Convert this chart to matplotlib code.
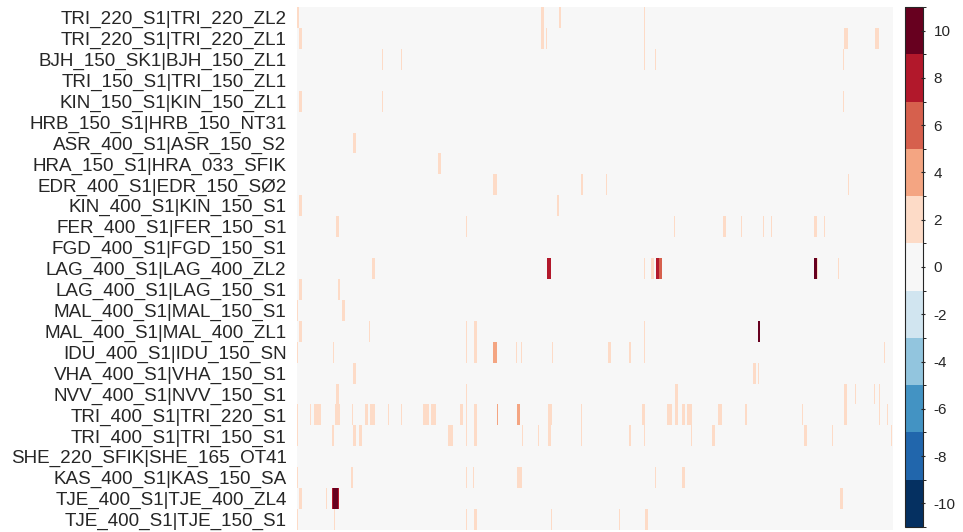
import numpy as np
import matplotlib
matplotlib.use("Agg")
import matplotlib.pyplot as plt
from matplotlib.colors import ListedColormap, BoundaryNorm

plt.rcParams['font.family'] = ['Liberation Sans', 'DejaVu Sans']
plt.rcParams['axes.unicode_minus'] = False

row_labels = [
    "TRI_220_S1|TRI_220_ZL2", "TRI_220_S1|TRI_220_ZL1", "BJH_150_SK1|BJH_150_ZL1",
    "TRI_150_S1|TRI_150_ZL1", "KIN_150_S1|KIN_150_ZL1", "HRB_150_S1|HRB_150_NT31",
    "ASR_400_S1|ASR_150_S2", "HRA_150_S1|HRA_033_SFIK", "EDR_400_S1|EDR_150_SØ2",
    "KIN_400_S1|KIN_150_S1", "FER_400_S1|FER_150_S1", "FGD_400_S1|FGD_150_S1",
    "LAG_400_S1|LAG_400_ZL2", "LAG_400_S1|LAG_150_S1", "MAL_400_S1|MAL_150_S1",
    "MAL_400_S1|MAL_400_ZL1", "IDU_400_S1|IDU_150_SN", "VHA_400_S1|VHA_150_S1",
    "NVV_400_S1|NVV_150_S1", "TRI_400_S1|TRI_220_S1", "TRI_400_S1|TRI_150_S1",
    "SHE_220_SFIK|SHE_165_OT41", "KAS_400_S1|KAS_150_SA", "TJE_400_S1|TJE_400_ZL4",
    "TJE_400_S1|TJE_150_S1",
]
n_cols = 596

# non-zero runs: row index, first column, last column, value
ev_row = (
    [0] * 4 + [1] * 6 + [2] * 5 + [4] * 3 + [6] + [7] + [8] * 4 + [9] * 2
    + [10] * 9 + [12] * 9 + [13] * 2 + [14] * 2 + [15] * 6 + [16] * 12
    + [17] * 3 + [18] * 7 + [19] * 29 + [20] * 18 + [22] * 7 + [23] * 6 + [24] * 7
)
ev_first = [
    0, 244, 262, 347,
    2, 244, 249, 347, 547, 578,
    85, 104, 347, 358, 546,
    2, 85, 546,
    56,
    141,
    196, 284, 309, 551,
    2, 260,
    39, 169, 377, 426, 444, 466, 474, 517, 527,
    75, 250, 347, 354, 359, 362, 517, 520, 541,
    2, 41,
    0, 45,
    2, 72, 169, 177, 347, 461,
    0, 36, 169, 177, 196, 219, 224, 255, 311, 332, 347, 587,
    56, 456, 461,
    39, 169, 378, 547, 558, 577, 582,
    0, 13, 17, 38, 55, 68, 73, 91, 104, 126, 134, 163, 169, 177, 200, 220,
    251, 284, 345, 370, 378, 385, 390, 421, 448, 505, 547, 582, 590,
    0, 35, 56, 62, 151, 169, 177, 225, 241, 251, 284, 332, 347, 394, 415, 507, 535, 594,
    0, 54, 169, 176, 220, 358, 385,
    2, 29, 35, 36, 41, 543,
    0, 37, 169, 177, 254, 322, 348,
]
ev_last = [
    1, 246, 263, 347,
    4, 246, 249, 347, 550, 581,
    85, 104, 347, 358, 546,
    4, 85, 546,
    58,
    143,
    199, 285, 309, 551,
    4, 261,
    41, 169, 377, 428, 444, 466, 474, 519, 527,
    77, 253, 347, 356, 361, 364, 519, 520, 541,
    4, 42,
    0, 47,
    4, 72, 169, 179, 347, 462,
    0, 36, 169, 179, 199, 219, 224, 255, 313, 333, 347, 587,
    58, 458, 461,
    41, 169, 380, 549, 558, 577, 582,
    0, 13, 23, 42, 55, 70, 77, 91, 104, 131, 138, 165, 169, 179, 200, 222,
    254, 284, 347, 374, 380, 387, 394, 424, 449, 505, 549, 582, 590,
    0, 36, 58, 64, 155, 169, 179, 225, 241, 253, 284, 333, 347, 394, 417, 509, 535, 594,
    0, 55, 169, 176, 224, 358, 387,
    4, 29, 35, 40, 41, 545,
    0, 37, 169, 179, 254, 322, 350,
]
ev_value = [
    2, 2, 2, 2,
    2, 2, 2, 2, 2, 2,
    2, 2, 2, 2, 2,
    2, 2, 2,
    2,
    2,
    2, 2, 2, 2,
    2, 2,
    2, 2, 2, 2, 2, 2, 2, 2, 2,
    2, 8, 2, 2, 8, 6, 10, 2, 2,
    2, 2,
    2, 2,
    2, 2, 2, 2, 2, 10,
    2, 2, 2, 2, 4, 2, 2, 2, 2, 2, 2, 2,
    2, 2, 2,
    2, 2, 2, 2, 2, 2, 2,
    2, 2, 2, 2, 2, 2, 2, 2, 2, 2, 2, 2, 2, 2, 4, 4,
    2, 2, 2, 2, 2, 2, 2, 2, 2, 2, 2, 2, 2,
    2, 2, 2, 2, 2, 2, 2, 2, 2, 2, 2, 2, 2, 2, 2, 2, 2, 2,
    2, 2, 2, 2, 2, 2, 2,
    2, 2, 8, 10, 8, 2,
    2, 2, 2, 2, 2, 2, 2,
]

level_colors = ["#053061", "#2166ac", "#4393c3", "#92c5de", "#d1e5f0", "#f7f7f7",
                "#fddbc7", "#f4a582", "#d6604d", "#b2182b", "#67001f"]
bounds = np.arange(-11, 12, 2)
cbar_ticks = np.arange(-10, 11, 2)

matrix = np.zeros((len(row_labels), n_cols))
for r, a, b, v in zip(ev_row, ev_first, ev_last, ev_value):
    matrix[r, a:b + 1] = v

cmap = ListedColormap(level_colors)
norm = BoundaryNorm(bounds, cmap.N)

W, H = 963, 532
fig = plt.figure(figsize=(W / 100, H / 100), dpi=100)
ax = fig.add_axes([297 / W, 1 - 530 / H, (893 - 297) / W, (530 - 7) / H])
mesh = ax.pcolormesh(np.arange(n_cols + 1), np.arange(len(row_labels) + 1), matrix,
                     cmap=cmap, norm=norm, antialiased=False, linewidth=0)
ax.set_xlim(0, n_cols)
ax.set_ylim(len(row_labels), 0)
ax.set_yticks(np.arange(len(row_labels)) + 0.5)
ax.set_yticklabels(row_labels, fontsize=13.6, color="#262626")
ax.set_xticks([])
ax.tick_params(axis="y", length=0, pad=7.5)
for s in ax.spines.values():
    s.set_visible(False)

cax = fig.add_axes([905 / W, 1 - 527 / H, 18 / W, (527 - 7) / H])
cb = fig.colorbar(mesh, cax=cax, boundaries=bounds, ticks=cbar_ticks)
cb.ax.tick_params(labelsize=11, labelcolor="#262626", length=3, width=0.8,
                  direction="inout", color="#262626", pad=6)
cb.outline.set_edgecolor("#262626")
cb.outline.set_linewidth(0.8)

fig.savefig("out.png", dpi=100)
